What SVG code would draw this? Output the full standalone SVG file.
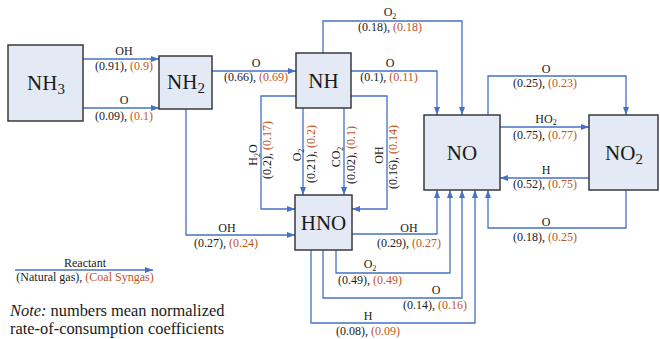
<svg xmlns="http://www.w3.org/2000/svg" width="660" height="339" viewBox="0 0 660 339" font-family="'Liberation Serif', serif">
<style>
text{font-family:"Liberation Serif",serif;fill:#1a1a1a}
.l{font-size:12px;text-anchor:middle}
.o{fill:#C0561E}
.n{font-size:21px;text-anchor:middle}
.box{fill:#E3EAF5;stroke:#3a3a3a;stroke-width:1.5}
.e{fill:none;stroke:#4472C4;stroke-width:1.3;marker-end:url(#a)}
</style>
<defs>
<marker id="a" markerUnits="userSpaceOnUse" markerWidth="8" markerHeight="6" refX="8" refY="3" orient="auto">
<path d="M0,0 L8,3 L0,6 z" fill="#4472C4"/>
</marker>
</defs>
<rect width="660" height="339" fill="#fff"/>
<g id="connectors">
<path class="e" d="M83,59 H159"/>
<path class="e" d="M83,108 H159"/>
<path class="e" d="M212,71 H296"/>
<path class="e" d="M186,109 V235 H295"/>
<path class="e" d="M351,71 H437 V115"/>
<path class="e" d="M323,53 V21 H462 V115"/>
<path class="e" d="M296,96 H261 V209 H295"/>
<path class="e" d="M303,108 V195"/>
<path class="e" d="M344,108 V195"/>
<path class="e" d="M351,96 H387 V209 H352"/>
<path class="e" d="M352,234 H437 V190"/>
<path class="e" d="M336,250 V273 H450 V190"/>
<path class="e" d="M323,250 V298 H462 V190"/>
<path class="e" d="M311,250 V323 H475 V190"/>
<path class="e" d="M488,115 V76 H626 V115"/>
<path class="e" d="M500,127 H589"/>
<path class="e" d="M589,178 H500"/>
<path class="e" d="M626,190 V228 H488 V190"/>
<path class="e" d="M15,270 H153"/>
</g>
<g id="edge-labels">
<text class="l" x="124" y="55">OH</text>
<text class="l" x="124" y="70">(0.91), <tspan class="o">(0.9)</tspan></text>
<text class="l" x="124" y="104">O</text>
<text class="l" x="124" y="120">(0.09), <tspan class="o">(0.1)</tspan></text>
<text class="l" x="256" y="67">O</text>
<text class="l" x="256" y="81">(0.66), <tspan class="o">(0.69)</tspan></text>
<text class="l" x="390" y="16">O<tspan font-size="8" dy="2.5">2</tspan></text>
<text class="l" x="390" y="31">(0.18), <tspan class="o">(0.18)</tspan></text>
<text class="l" x="390" y="67">O</text>
<text class="l" x="389" y="81">(0.1), <tspan class="o">(0.11)</tspan></text>
<text class="l" x="546" y="73">O</text>
<text class="l" x="545" y="87">(0.25), <tspan class="o">(0.23)</tspan></text>
<text class="l" x="546" y="123">HO<tspan font-size="8" dy="2">2</tspan></text>
<text class="l" x="545" y="139">(0.75), <tspan class="o">(0.77)</tspan></text>
<text class="l" x="546" y="174">H</text>
<text class="l" x="545" y="188">(0.52), <tspan class="o">(0.75)</tspan></text>
<text class="l" x="546" y="226">O</text>
<text class="l" x="545" y="241">(0.18), <tspan class="o">(0.25)</tspan></text>
<text class="l" x="227" y="232">OH</text>
<text class="l" x="226" y="247">(0.27), <tspan class="o">(0.24)</tspan></text>
<text class="l" x="409" y="232">OH</text>
<text class="l" x="409" y="247">(0.29), <tspan class="o">(0.27)</tspan></text>
<text class="l" x="370" y="268">O<tspan font-size="8" dy="2.5">2</tspan></text>
<text class="l" x="370" y="284">(0.49), <tspan class="o">(0.49)</tspan></text>
<text class="l" x="436" y="294">O</text>
<text class="l" x="435" y="309">(0.14), <tspan class="o">(0.16)</tspan></text>
<text class="l" x="368" y="320">H</text>
<text class="l" x="368" y="335">(0.08), <tspan class="o">(0.09)</tspan></text>
<text class="l" transform="translate(257,155) rotate(-90)">H<tspan font-size="8" dy="2.5">2</tspan><tspan dy="-2.5">O</tspan></text>
<text class="l" transform="translate(271,150) rotate(-90)">(0.2), <tspan class="o">(0.17)</tspan></text>
<text class="l" transform="translate(301,155) rotate(-90)">O<tspan font-size="8" dy="2.5">2</tspan></text>
<text class="l" transform="translate(315,154) rotate(-90)">(0.21), <tspan class="o">(0.2)</tspan></text>
<text class="l" transform="translate(340,157) rotate(-90)">CO<tspan font-size="8" dy="2.5">2</tspan></text>
<text class="l" transform="translate(355,155) rotate(-90)">(0.02), <tspan class="o">(0.1)</tspan></text>
<text class="l" transform="translate(383,155) rotate(-90)">OH</text>
<text class="l" transform="translate(397,157) rotate(-90)">(0.16), <tspan class="o">(0.14)</tspan></text>
</g>
<g id="NH3"><rect class="box" x="8" y="45" width="75" height="76"/><text class="n" x="46" y="90">NH<tspan font-size="15" dy="4">3</tspan></text></g>
<g id="NH2"><rect class="box" x="159" y="56" width="53" height="53"/><text class="n" x="186" y="89">NH<tspan font-size="15" dy="4">2</tspan></text></g>
<g id="NH"><rect class="box" x="296" y="53" width="55" height="55"/><text class="n" x="323.5" y="88">NH</text></g>
<g id="HNO"><rect class="box" x="295" y="195" width="57" height="55"/><text class="n" x="323.5" y="230">HNO</text></g>
<g id="NO"><rect class="box" x="424" y="115" width="76" height="75"/><text class="n" x="462" y="160">NO</text></g>
<g id="NO2"><rect class="box" x="589" y="115" width="69" height="75"/><text class="n" x="624" y="160">NO<tspan font-size="15" dy="4">2</tspan></text></g>
<g id="legend">
<text class="l" x="85" y="267">Reactant</text>
<text class="l" x="85" y="281">(Natural gas), <tspan class="o">(Coal Syngas)</tspan></text>
<text x="10" y="316" font-size="16.4"><tspan font-style="italic">Note:</tspan> numbers mean normalized</text>
<text x="10" y="334" font-size="16.4">rate-of-consumption coefficients</text>
</g>
</svg>
